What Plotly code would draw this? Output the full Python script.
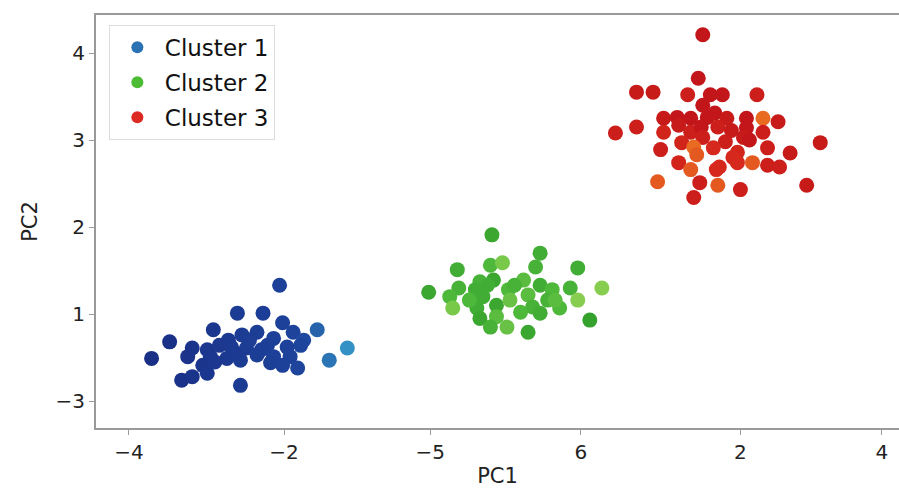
import plotly.graph_objects as go

# ---- data (axis units = tick index positions) ----
tick_x_pos = [0, 1.03, 2.0, 3.0, 4.06, 5.0]
tick_x_text = ["\u22124", "\u22122", "\u22125", "6", "2", "4"]
tick_y_pos = [0, 1, 2, 3, 4]
tick_y_text = ["\u22123", "1", "2", "3", "4"]

c1_x = [1.00, 0.72, 0.89, 0.56, 0.75, 0.85, 1.02, 1.09, 1.25, 0.27, 0.66, 0.96, 1.16, 1.14,
        0.42, 0.52, 0.68, 0.78, 0.92, 1.05, 1.45, 1.33, 0.15, 0.39, 0.54, 0.65, 0.85, 0.96,
        1.07, 0.49, 0.74, 1.12, 0.94, 0.35, 0.42, 0.52, 0.74, 0.60, 0.80, 0.57, 0.88, 0.70, 1.02]
c1_y = [1.33, 1.01, 1.01, 0.82, 0.76, 0.79, 0.90, 0.79, 0.82, 0.68, 0.70, 0.72, 0.70, 0.64,
        0.61, 0.59, 0.62, 0.61, 0.64, 0.62, 0.61, 0.47, 0.49, 0.51, 0.51, 0.49, 0.53, 0.51,
        0.51, 0.41, 0.47, 0.38, 0.44, 0.24, 0.28, 0.32, 0.18, 0.64, 0.70, 0.45, 0.59, 0.56, 0.41]

c2_x = [2.41, 2.73, 2.70, 2.18, 2.98, 2.40, 2.48, 2.33, 2.42, 2.62, 2.73, 2.81, 2.93, 3.14,
        1.99, 2.19, 2.30, 2.52, 2.13, 2.35, 2.44, 2.65, 2.78, 2.86, 2.98, 2.15, 2.31, 2.53,
        2.68, 2.33, 2.44, 2.73, 2.40, 2.51, 2.65, 3.06, 2.26, 2.56, 2.83, 2.38, 2.60]
c2_y = [1.91, 1.70, 1.54, 1.51, 1.53, 1.56, 1.59, 1.37, 1.39, 1.39, 1.33, 1.28, 1.30, 1.30,
        1.25, 1.30, 1.28, 1.28, 1.20, 1.20, 1.10, 1.22, 1.16, 1.07, 1.16, 1.07, 1.07, 1.16,
        1.08, 0.95, 0.97, 1.01, 0.85, 0.85, 0.79, 0.93, 1.16, 1.33, 1.16, 1.33, 1.02]
c2_shade = [0.2, 0.3, 0.4, 0.3, 0.3, 0.5, 0.8, 0.4, 0.2, 0.6, 0.3, 0.5, 0.4, 0.9,
            0.2, 0.4, 0.3, 0.5, 0.5, 0.3, 0.2, 0.6, 0.4, 0.5, 0.9, 0.8, 0.3, 0.7,
            0.4, 0.2, 0.6, 0.3, 0.4, 0.7, 0.2, 0.1, 0.5, 0.4, 0.6, 0.3, 0.5]

c3_x = [3.81, 3.78, 3.37, 3.48, 3.71, 3.86, 3.94, 4.17, 3.81, 3.55, 3.64, 3.73, 3.84, 3.89,
        3.97, 4.10, 4.21, 4.31, 3.23, 3.37, 3.55, 3.65, 3.73, 3.80, 3.91, 4.00, 4.10, 4.21,
        3.67, 3.81, 3.96, 4.08, 4.12, 3.53, 3.75, 3.88, 4.04, 4.24, 4.39, 4.59, 3.77, 4.01,
        3.65, 3.92, 4.04, 4.14, 4.24, 4.32, 3.73, 3.90, 3.51, 3.79, 3.91, 4.06, 4.50, 3.75]
c3_y = [4.21, 3.71, 3.55, 3.55, 3.52, 3.52, 3.52, 3.52, 3.40, 3.25, 3.26, 3.25, 3.26, 3.31,
        3.25, 3.25, 3.25, 3.21, 3.08, 3.15, 3.09, 3.17, 3.09, 3.15, 3.15, 3.11, 3.14, 3.09,
        2.97, 3.03, 2.98, 3.03, 3.00, 2.89, 2.92, 2.91, 2.86, 2.91, 2.85, 2.97, 2.83, 2.80,
        2.74, 2.69, 2.74, 2.74, 2.71, 2.69, 2.66, 2.66, 2.52, 2.51, 2.48, 2.43, 2.48, 2.34]
c3_shade = [0.1, 0.1, 0.2, 0.2, 0.3, 0.1, 0.1, 0.3, 0.1, 0.2, 0.1, 0.1, 0.1, 0.1,
            0.2, 0.1, 0.9, 0.2, 0.3, 0.3, 0.4, 0.2, 0.3, 0.1, 0.3, 0.2, 0.1, 0.3,
            0.4, 0.3, 0.3, 0.2, 0.1, 0.3, 0.9, 0.5, 0.4, 0.3, 0.2, 0.2, 0.8, 0.5,
            0.4, 0.5, 0.5, 0.8, 0.3, 0.3, 0.8, 0.5, 0.8, 0.3, 0.8, 0.3, 0.2, 0.3]

names = ["Cluster 1", "Cluster 2", "Cluster 3"]
legend_colors = ["#2a72b3", "#4cbc35", "#dc2a22"]

fig = go.Figure()

fig.add_trace(go.Scatter(
    x=c1_x, y=c1_y, mode="markers", showlegend=False,
    marker=dict(size=15, color=c1_x, cmin=0.2, cmax=1.45,
                colorscale=[[0, "#1a2f86"], [0.75, "#1e449c"], [0.85, "#2766ad"], [1, "#3391c6"]],
                line=dict(width=0))))
fig.add_trace(go.Scatter(
    x=c2_x, y=c2_y, mode="markers", showlegend=False,
    marker=dict(size=15, color=c2_shade, cmin=0, cmax=1,
                colorscale=[[0, "#2f9c2a"], [0.5, "#4db83a"], [1, "#94d255"]],
                line=dict(width=0))))
fig.add_trace(go.Scatter(
    x=c3_x, y=c3_y, mode="markers", showlegend=False,
    marker=dict(size=15, color=c3_shade, cmin=0, cmax=1,
                colorscale=[[0, "#bd1219"], [0.5, "#d6281c"], [1, "#ee7a22"]],
                line=dict(width=0))))

for i, (n, c) in enumerate(zip(names, legend_colors)):
    fig.add_trace(go.Scatter(x=[None], y=[None], mode="markers", name=n,
                             legendgroup=n,
                             marker=dict(size=22, color=c)))

axis_common = dict(showline=True, linecolor="#9a9a9a", linewidth=2,
                   ticks="outside", ticklen=5, tickcolor="#9a9a9a", tickwidth=1,
                   showgrid=False, zeroline=False,
                   tickfont=dict(family="DejaVu Sans", size=20, color="#222222"))

fig.update_xaxes(range=[-0.219, 5.113], tickvals=tick_x_pos, ticktext=tick_x_text,
                 mirror=True,
                 title=dict(text="PC1", font=dict(family="DejaVu Sans", size=21, color="#222222"),
                            standoff=6),
                 **axis_common)
fig.update_yaxes(range=[-0.31, 4.437], tickvals=tick_y_pos, ticktext=tick_y_text,
                 title=dict(text="PC2", font=dict(family="DejaVu Sans", size=21, color="#222222"),
                            standoff=12),
                 **axis_common)

fig.update_layout(
    width=899, height=488,
    margin=dict(l=96, r=0, t=15, b=60),
    plot_bgcolor="white", paper_bgcolor="white",
    legend=dict(x=0.016, y=0.976, xanchor="left", yanchor="top",
                bordercolor="#dddddd", borderwidth=1, bgcolor="white",
                font=dict(family="DejaVu Sans", size=23, color="#111111"),
                traceorder="grouped", tracegroupgap=2, itemsizing="constant",
                itemwidth=45),
)

fig.write_html("out.html")
